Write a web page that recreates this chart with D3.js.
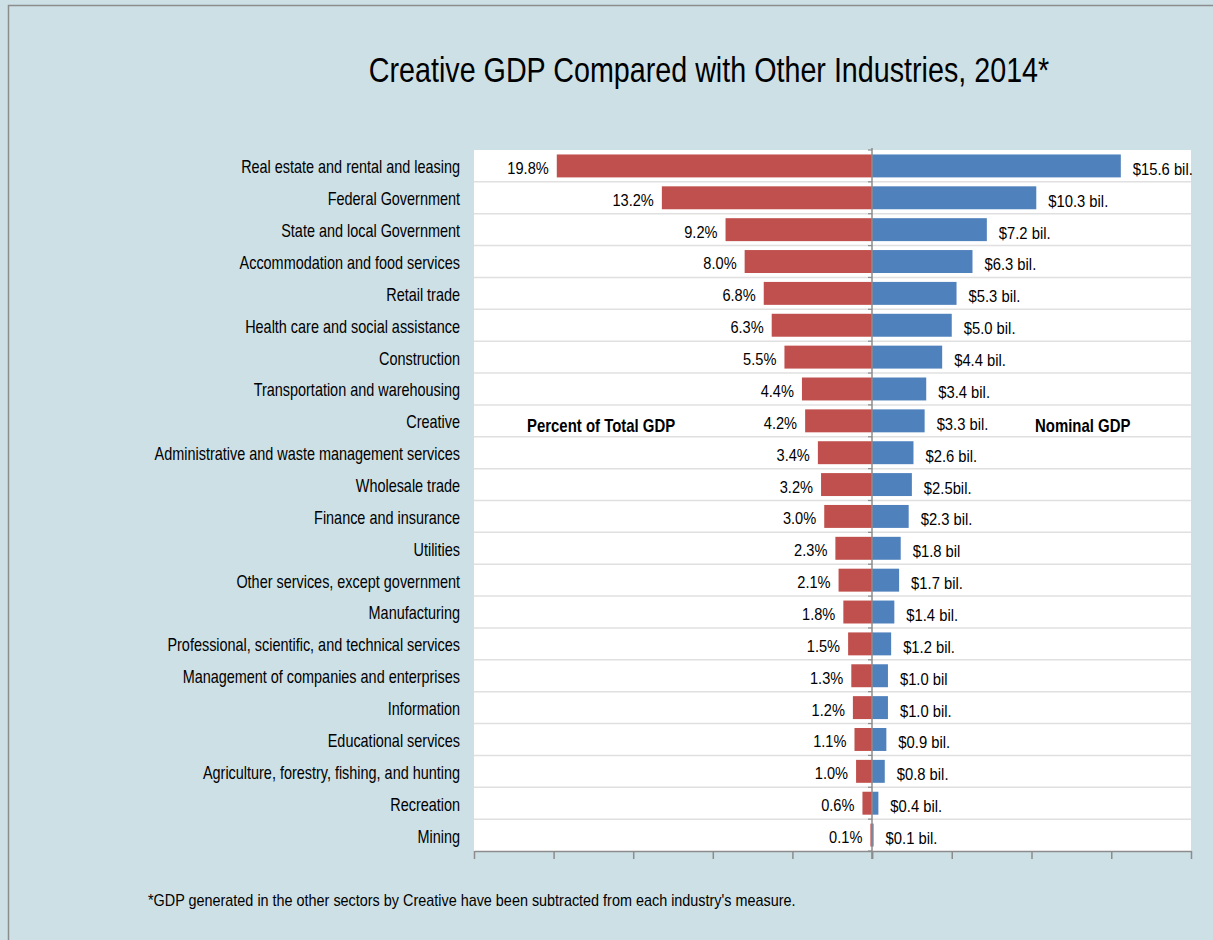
<!DOCTYPE html>
<html><head><meta charset="utf-8">
<script src="https://cdn.jsdelivr.net/npm/d3@7"></script>
<style>
html,body{margin:0;padding:0;background:#cde0e6;overflow:hidden;}
svg{display:block;font-family:"Liberation Sans","Arial",sans-serif;}
</style></head><body>
<svg id="chart" width="1213" height="940"></svg>
<script>
const categories = ["Real estate and rental and leasing","Federal Government","State and local Government","Accommodation and food services","Retail trade","Health care and social assistance","Construction","Transportation and warehousing","Creative","Administrative and waste management services","Wholesale trade","Finance and insurance","Utilities","Other services, except government","Manufacturing","Professional, scientific, and technical services","Management of companies and enterprises","Information","Educational services","Agriculture, forestry, fishing, and hunting","Recreation","Mining"];
const percentValues = [19.8,13.2,9.2,8.0,6.8,6.3,5.5,4.4,4.2,3.4,3.2,3.0,2.3,2.1,1.8,1.5,1.3,1.2,1.1,1.0,0.6,0.1];
const gdpValues = [15.6,10.3,7.2,6.3,5.3,5.0,4.4,3.4,3.3,2.6,2.5,2.3,1.8,1.7,1.4,1.2,1.0,1.0,0.9,0.8,0.4,0.1];
const percentLabels = ["19.8%","13.2%","9.2%","8.0%","6.8%","6.3%","5.5%","4.4%","4.2%","3.4%","3.2%","3.0%","2.3%","2.1%","1.8%","1.5%","1.3%","1.2%","1.1%","1.0%","0.6%","0.1%"];
const gdpLabels = ["$15.6 bil.","$10.3 bil.","$7.2 bil.","$6.3 bil.","$5.3 bil.","$5.0 bil.","$4.4 bil.","$3.4 bil.","$3.3 bil.","$2.6 bil.","$2.5bil.","$2.3 bil.","$1.8 bil","$1.7 bil.","$1.4 bil.","$1.2 bil.","$1.0 bil","$1.0 bil.","$0.9 bil.","$0.8 bil.","$0.4 bil.","$0.1 bil."];
const percentTicks = [0,5,10,15,20,25];
const gdpTicks = [0,5,10,15,20];
const title = "Creative GDP Compared with Other Industries, 2014*";
const footnote = "*GDP generated  in the other sectors by Creative have been subtracted from each industry's measure.";

// emulate the condensed font of the original: narrow each text horizontally about its anchor x
function squeeze(sel, f){
  sel.each(function(){
    const x = +this.getAttribute("x");
    this.setAttribute("transform", `translate(${x},0) scale(${f},1) translate(${-x},0)`);
  });
  return sel;
}

const svg = d3.select("#chart");
svg.append("rect").attr("x",8.5).attr("y",5.5).attr("width",1230).attr("height",960)
  .attr("fill","#cde0e6").attr("stroke","#8c8c8c").attr("stroke-width",1.5);

const pLeft = 474, pCenter = 872, pRight = 1191, pTop = 150, pBottom = 851;
const xL = d3.scaleLinear().domain([0,25]).range([pCenter,pLeft]);
const xR = d3.scaleLinear().domain([0,20]).range([pCenter,pRight]);
const y = d3.scaleBand().domain(categories).range([pTop,pBottom]).paddingInner(0.28).paddingOuter(0.14);

svg.append("rect").attr("x",pLeft).attr("y",pTop).attr("width",pRight-pLeft).attr("height",pBottom-pTop).attr("fill","#fff");

const step = y.step();
svg.append("g").selectAll("line").data(categories.slice(1)).join("line")
  .attr("x1",pLeft).attr("x2",pRight)
  .attr("y1",(d,i)=>pTop+step*(i+1)).attr("y2",(d,i)=>pTop+step*(i+1))
  .attr("stroke","#e0e0e0").attr("stroke-width",1.5);

svg.append("g").selectAll("rect").data(categories).join("rect")
  .attr("x",(d,i)=>xL(percentValues[i])).attr("y",d=>y(d))
  .attr("width",(d,i)=>pCenter-xL(percentValues[i])).attr("height",y.bandwidth())
  .attr("fill","#c0504d");
svg.append("g").selectAll("rect").data(categories).join("rect")
  .attr("x",pCenter).attr("y",d=>y(d))
  .attr("width",(d,i)=>xR(gdpValues[i])-pCenter).attr("height",y.bandwidth())
  .attr("fill","#4f81bd");

svg.append("line").attr("x1",pCenter).attr("x2",pCenter).attr("y1",pTop-2).attr("y2",pBottom+8)
  .attr("stroke","#8c8c8c").attr("stroke-width",1.5);
svg.append("g").selectAll("line").data(d3.range(categories.length+1)).join("line")
  .attr("x1",pCenter-4).attr("x2",pCenter).attr("y1",i=>pTop+step*i).attr("y2",i=>pTop+step*i)
  .attr("stroke","#8c8c8c").attr("stroke-width",1.2);

const axL = d3.axisBottom(xL).tickValues(percentTicks).tickFormat("").tickSize(8).tickSizeOuter(0);
const axR = d3.axisBottom(xR).tickValues(gdpTicks).tickFormat("").tickSize(8).tickSizeOuter(0);
const gL = svg.append("g").attr("transform",`translate(0,${pBottom})`).call(axL);
const gR = svg.append("g").attr("transform",`translate(0,${pBottom})`).call(axR);
[gL,gR].forEach(g=>{g.selectAll("path,line").attr("stroke","#8c8c8c").attr("stroke-width",1.5);});

squeeze(svg.append("g").selectAll("text").data(categories).join("text")
  .attr("x",460).attr("y",d=>y(d)+y.bandwidth()/2+1).attr("dy","0.35em")
  .attr("text-anchor","end").attr("font-size",18.5).attr("fill","#000").text(d=>d), 0.78);

squeeze(svg.append("g").selectAll("text").data(categories).join("text")
  .attr("x",(d,i)=>xL(percentValues[i])-8).attr("y",d=>y(d)+y.bandwidth()/2+2).attr("dy","0.35em")
  .attr("text-anchor","end").attr("font-size",17).text((d,i)=>percentLabels[i]), 0.86);
squeeze(svg.append("g").selectAll("text").data(categories).join("text")
  .attr("x",(d,i)=>xR(gdpValues[i])+12).attr("y",d=>y(d)+y.bandwidth()/2+3).attr("dy","0.35em")
  .attr("text-anchor","start").attr("font-size",17).text((d,i)=>gdpLabels[i]), 0.87);

squeeze(svg.append("text").attr("x",527).attr("y",y("Creative")+y.bandwidth()/2+5).attr("dy","0.35em")
  .attr("font-size",18).attr("font-weight","bold").text("Percent of Total GDP"), 0.83);
squeeze(svg.append("text").attr("x",1035).attr("y",y("Creative")+y.bandwidth()/2+5).attr("dy","0.35em")
  .attr("font-size",18).attr("font-weight","bold").text("Nominal GDP"), 0.83);

squeeze(svg.append("text").attr("x",709).attr("y",70).attr("dy","0.35em").attr("text-anchor","middle")
  .attr("font-size",35).text(title), 0.82);
squeeze(svg.append("text").attr("x",148).attr("y",900).attr("dy","0.35em")
  .attr("font-size",16).text(footnote), 0.90);
</script>
</body></html>
